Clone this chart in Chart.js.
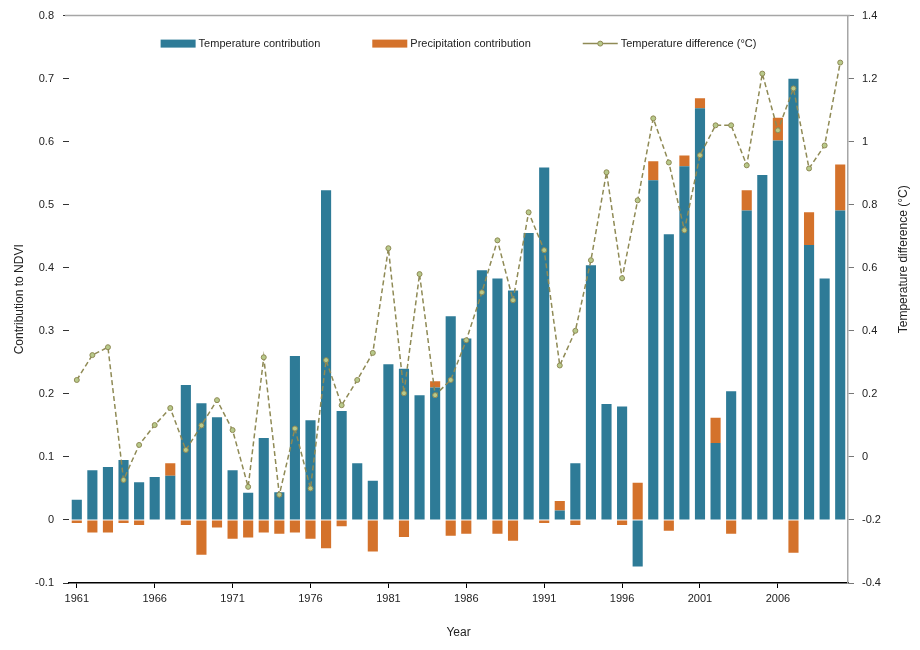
<!DOCTYPE html>
<html>
<head>
<meta charset="utf-8">
<script src="https://cdn.jsdelivr.net/npm/chart.js@4/dist/chart.umd.min.js"></script>
<style>
  html, body { margin: 0; padding: 0; background: #ffffff; }
  #wrap { width: 920px; height: 650px; position: relative; }
</style>
</head>
<body>
<div id="wrap"><canvas id="c" width="920" height="650"></canvas></div>
<script>
// Years on the category axis
const years = [
  '1961','1962','1963','1964','1965','1966','1967','1968','1969','1970',
  '1971','1972','1973','1974','1975','1976','1977','1978','1979','1980',
  '1981','1982','1983','1984','1985','1986','1987','1988','1989','1990',
  '1991','1992','1993','1994','1995','1996','1997','1998','1999','2000',
  '2001','2002','2003','2004','2005','2006','2007','2008','2009','2010'
];

// Contribution of temperature to NDVI (left axis)
const tempContribution = [
  0.032, 0.079, 0.084, 0.095, 0.060, 0.068, 0.070, 0.214, 0.185, 0.163,
  0.079, 0.043, 0.130, 0.044, 0.260, 0.158, 0.523, 0.173, 0.090, 0.062,
  0.247, 0.240, 0.198, 0.210, 0.323, 0.288, 0.396, 0.383, 0.364, 0.455,
  0.559, 0.015, 0.090, 0.404, 0.184, 0.180, -0.074, 0.539, 0.453, 0.561,
  0.653, 0.122, 0.204, 0.491, 0.547, 0.602, 0.700, 0.436, 0.383, 0.491
];

// Contribution of precipitation to NDVI (left axis)
const precipContribution = [
  -0.005, -0.020, -0.020, -0.005, -0.008, 0.000, 0.020, -0.008, -0.055, -0.012,
  -0.030, -0.028, -0.020, -0.022, -0.020, -0.030, -0.045, -0.010, 0.000, -0.050,
  0.000, -0.027, 0.000, 0.010, -0.025, -0.022, 0.000, -0.022, -0.033, 0.000,
  -0.005, 0.015, -0.008, 0.000, 0.000, -0.008, 0.059, 0.030, -0.017, 0.017,
  0.016, 0.040, -0.022, 0.032, 0.000, 0.036, -0.052, 0.052, 0.000, 0.073
];

// Temperature difference in °C (right axis)
const tempDifference = [
  0.244, 0.323, 0.348, -0.073, 0.038, 0.101, 0.155, 0.022, 0.100, 0.180,
  0.085, -0.095, 0.316, -0.120, 0.090, -0.100, 0.307, 0.164, 0.244, 0.330,
  0.662, 0.202, 0.580, 0.196, 0.244, 0.370, 0.522, 0.687, 0.497, 0.776,
  0.656, 0.290, 0.400, 0.624, 0.903, 0.567, 0.814, 1.074, 0.934, 0.719,
  0.957, 1.052, 1.052, 0.925, 1.216, 1.036, 1.169, 0.915, 0.988, 1.251
];

const FONT = '"Liberation Sans", Arial, sans-serif';
const TEAL = '#2e7b97';
const ORANGE = '#d4722b';
const LINE = '#8f8a55';

// Tick text without floating-point noise: 1, 0.8, 0, -0.2 ...
const tidy = v => String(Math.round(v * 10) / 10);

// Legend drawn inside the plot, just under the top frame line
const insideLegend = {
  id: 'insideLegend',
  afterDraw(chart) {
    const { ctx, chartArea } = chart;
    const ds = chart.data.datasets;
    ctx.save();
    ctx.font = '11px ' + FONT;
    const boxW = 35, boxH = 8, pad = 3, gap = 52;
    const widths = ds.map(d => boxW + pad + ctx.measureText(d.label).width);
    const total = widths.reduce((a, b) => a + b, 0) + gap * (ds.length - 1);
    let x = (chartArea.left + chartArea.right) / 2 - total / 2;
    const y = chartArea.top + 28;
    ds.forEach((d, i) => {
      if (d.type === 'line') {
        ctx.strokeStyle = d.borderColor;
        ctx.lineWidth = 1.5;
        ctx.beginPath();
        ctx.moveTo(x, y);
        ctx.lineTo(x + boxW, y);
        ctx.stroke();
        ctx.fillStyle = d.pointBackgroundColor;
        ctx.lineWidth = 1;
        ctx.beginPath();
        ctx.arc(x + boxW / 2, y, 2.5, 0, Math.PI * 2);
        ctx.fill();
        ctx.stroke();
      } else {
        ctx.fillStyle = d.backgroundColor;
        ctx.fillRect(x, y - boxH / 2, boxW, boxH);
      }
      ctx.fillStyle = '#222';
      ctx.textBaseline = 'middle';
      ctx.textAlign = 'left';
      ctx.fillText(d.label, x + boxW + pad, y + 0.5);
      x += widths[i] + gap;
    });
    ctx.restore();
  }
};

// Top frame line and the right-hand axis title
const frameAndTitle = {
  id: 'frameAndTitle',
  afterDraw(chart) {
    const { ctx, chartArea } = chart;
    ctx.save();
    ctx.strokeStyle = '#a6a6a6';
    ctx.lineWidth = 1.5;
    ctx.beginPath();
    ctx.moveTo(chartArea.left - 4, chartArea.top);
    ctx.lineTo(chartArea.right + 2, chartArea.top);
    ctx.stroke();

    ctx.translate(904, (chartArea.top + chartArea.bottom) / 2 - 40);
    ctx.rotate(-Math.PI / 2);
    ctx.font = '12px ' + FONT;
    ctx.fillStyle = '#222';
    ctx.textAlign = 'center';
    ctx.textBaseline = 'middle';
    ctx.fillText('Temperature difference (°C)', 0, 0);
    ctx.restore();
  }
};

new Chart(document.getElementById('c'), {
  type: 'bar',
  data: {
    labels: years,
    datasets: [
      {
        label: 'Temperature contribution',
        data: tempContribution,
        backgroundColor: TEAL,
        yAxisID: 'y',
        stack: 'ndvi',
        barPercentage: 0.65,
        categoryPercentage: 1,
        order: 1
      },
      {
        label: 'Precipitation contribution',
        data: precipContribution,
        backgroundColor: ORANGE,
        yAxisID: 'y',
        stack: 'ndvi',
        barPercentage: 0.65,
        categoryPercentage: 1,
        order: 1
      },
      {
        type: 'line',
        label: 'Temperature difference (°C)',
        data: tempDifference,
        yAxisID: 'y1',
        borderColor: LINE,
        borderWidth: 1.5,
        borderDash: [5, 3],
        pointRadius: 2.5,
        pointBackgroundColor: '#b8c98a',
        pointBorderColor: LINE,
        pointBorderWidth: 1,
        tension: 0,
        order: 0
      }
    ]
  },
  options: {
    responsive: false,
    animation: false,
    devicePixelRatio: 1,
    layout: { padding: { top: 15, left: 0, right: 0, bottom: 0 } },
    plugins: {
      legend: { display: false },
      tooltip: { enabled: false }
    },
    scales: {
      x: {
        stacked: true,
        afterFit: s => { s.height = 67; },
        grid: { offset: false, drawOnChartArea: false, tickLength: 5, color: '#000' },
        border: { color: '#000', width: 1.5 },
        afterBuildTicks: s => { s.ticks = s.ticks.filter(t => t.value % 5 === 0); },
        ticks: {
          autoSkip: false,
          maxRotation: 0,
          padding: 4,
          color: '#222',
          font: { family: FONT, size: 11 },
          callback: function (v) { return this.getLabelForValue(v); }
        },
        title: {
          display: true,
          text: 'Year',
          color: '#222',
          font: { family: FONT, size: 12 },
          padding: { top: 4, bottom: 10 }
        }
      },
      y: {
        stacked: true,
        position: 'left',
        min: -0.1,
        max: 0.8,
        afterFit: s => { s.width = 69; },
        grid: { drawOnChartArea: false, tickLength: 6, color: '#333' },
        border: { display: false },
        ticks: {
          stepSize: 0.1,
          padding: 9,
          color: '#222',
          font: { family: FONT, size: 11 },
          callback: tidy
        },
        title: {
          display: true,
          text: 'Contribution to NDVI',
          color: '#222',
          font: { family: FONT, size: 12 },
          padding: { top: 12, bottom: 0 }
        }
      },
      y1: {
        position: 'right',
        min: -0.4,
        max: 1.4,
        afterFit: s => { s.width = 72; },
        grid: { drawOnChartArea: false, tickLength: 6, color: '#777' },
        border: { color: '#a6a6a6', width: 1.5 },
        ticks: {
          stepSize: 0.2,
          padding: 8,
          color: '#222',
          font: { family: FONT, size: 11 },
          callback: tidy
        }
      }
    }
  },
  plugins: [insideLegend, frameAndTitle]
});
</script>
</body>
</html>
